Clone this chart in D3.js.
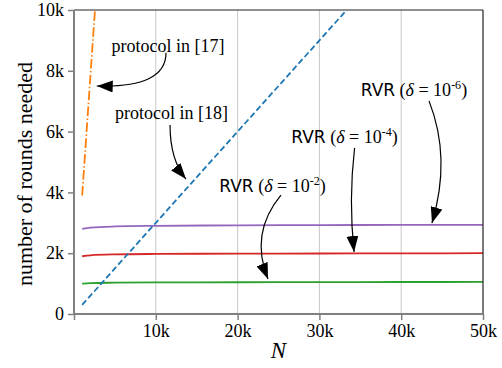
<!DOCTYPE html>
<html>
<head>
<meta charset="utf-8">
<script src="https://cdn.jsdelivr.net/npm/d3@7"></script>
<style>
  body { margin: 0; background: #fff; }
</style>
</head>
<body>
<script>
// values
var nTicks = [10000, 20000, 30000, 40000, 50000];
var yTicks = [0, 2000, 4000, 6000, 8000, 10000];
var tickFmt = function(d) { return d === 0 ? '0' : (d / 1000) + 'k'; };

var rvrN = [1000, 2000, 5000, 10000, 20000, 30000, 40000, 50000];
var rvr6 = [2800, 2840, 2880, 2900, 2915, 2925, 2930, 2935];
var rvr4 = [1900, 1930, 1960, 1975, 1985, 1990, 1995, 2000];
var rvr2 = [1000, 1015, 1030, 1040, 1045, 1050, 1052, 1055];

var p18N = [1000, 10000, 20000, 33333];
var p18V = [300, 3000, 6000, 10000];
var p17N = [1000, 2564];
var p17V = [3900, 10000];

var serif = '"Liberation Serif", "Times New Roman", serif';
var sans = '"DejaVu Sans", sans-serif';

var width = 502;
var height = 368;

var x = d3.scaleLinear().domain([0, 50000]).range([74, 483]);
var y = d3.scaleLinear().domain([0, 10000]).range([314, 10]);

var svg = d3.select('body')
            .append('svg')
            .attr('width', width)
            .attr('height', height)
            .attr('font-family', serif);

var defs = svg.append('defs');
defs.append('clipPath').attr('id', 'plot')
    .append('rect')
    .attr('x', x(0)).attr('y', y(10000))
    .attr('width', x(50000) - x(0)).attr('height', y(0) - y(10000));

defs.append('marker')
    .attr('id', 'head')
    .attr('markerUnits', 'userSpaceOnUse')
    .attr('viewBox', '0 0 16 12')
    .attr('refX', 16).attr('refY', 6)
    .attr('markerWidth', 16).attr('markerHeight', 12)
    .attr('orient', 'auto')
    .append('path')
    .attr('d', 'M0,0 L16,6 L0,12 Z')
    .attr('fill', '#000');

// vertical grid
svg.append('g').selectAll('line')
   .data(nTicks.slice(0, 4))
   .enter().append('line')
   .attr('x1', function(d) { return x(d); })
   .attr('x2', function(d) { return x(d); })
   .attr('y1', y(0)).attr('y2', y(10000))
   .attr('stroke', '#c8c8c8')
   .attr('stroke-width', 1);

// series
var line = d3.line()
             .x(function(d) { return x(d[0]); })
             .y(function(d) { return y(d[1]); })
             .curve(d3.curveMonotoneX);

var zip = function(a, b) { return a.map(function(v, i) { return [v, b[i]]; }); };

var series = [
  {pts: zip(rvrN, rvr2), color: '#2ca02c', dash: null},
  {pts: zip(rvrN, rvr4), color: '#d62728', dash: null},
  {pts: zip(rvrN, rvr6), color: '#9467bd', dash: null},
  {pts: zip(p18N, p18V), color: '#1f77b4', dash: '6,3'},
  {pts: zip(p17N, p17V), color: '#ff7f0e', dash: '9.6,2.4,1.5,2.4'}
];

svg.append('g').attr('clip-path', 'url(#plot)')
   .selectAll('path')
   .data(series)
   .enter().append('path')
   .attr('d', function(d) { return line(d.pts); })
   .attr('fill', 'none')
   .attr('stroke', function(d) { return d.color; })
   .attr('stroke-width', 1.8)
   .attr('stroke-dasharray', function(d) { return d.dash; });

// frame: top/right thin dark, left/bottom gray axes
svg.append('line').attr('x1', x(0)).attr('x2', x(50000)).attr('y1', y(10000)).attr('y2', y(10000))
   .attr('stroke', '#222').attr('stroke-width', 1.2);
svg.append('line').attr('x1', x(50000)).attr('x2', x(50000)).attr('y1', y(0)).attr('y2', y(10000))
   .attr('stroke', '#222').attr('stroke-width', 1.2);

var xAxis = svg.append('g')
   .attr('transform', 'translate(0,' + y(0) + ')')
   .call(d3.axisBottom(x).tickValues([0].concat(nTicks)).tickFormat(function(d) { return d === 0 ? '' : tickFmt(d); }).tickSize(6).tickPadding(4));
var yAxis = svg.append('g')
   .attr('transform', 'translate(' + x(0) + ',0)')
   .call(d3.axisLeft(y).tickValues(yTicks).tickFormat(tickFmt).tickSize(6).tickPadding(4));

[xAxis, yAxis].forEach(function(g) {
  g.attr('font-family', serif).attr('font-size', 18);
  g.select('.domain').attr('stroke', '#808080').attr('stroke-width', 2);
  g.selectAll('.tick line').attr('stroke', '#808080').attr('stroke-width', 1.5);
  g.selectAll('.tick text').attr('fill', '#000');
});
xAxis.select('.domain').attr('d', 'M' + x(0) + ',0H' + x(50000));
yAxis.select('.domain').attr('d', 'M0,' + y(0) + 'V' + y(10000));

// axis titles
svg.append('text')
   .attr('x', (x(0) + x(50000)) / 2)
   .attr('y', 358)
   .attr('text-anchor', 'middle')
   .attr('font-size', 23)
   .attr('font-style', 'italic')
   .text('N');

svg.append('text')
   .attr('transform', 'translate(32,174) rotate(-90)')
   .attr('text-anchor', 'middle')
   .attr('font-size', 22)
   .text('number of rounds needed');

// annotations in data space
var notes = [
  {label: 'protocol in [17]', tx: 11500, ty: 8620, sup: null,
   from: [11250, 8590], ctrl: [11250, 7430], to: [2780, 7500]},
  {label: 'protocol in [18]', tx: 11920, ty: 6420, sup: null,
   from: [11740, 6220], ctrl: [11740, 5070], to: [13690, 4440]},
  {label: 'RVR', tx: 41560, ty: 7170, sup: '-6',
   from: [43400, 7010], ctrl: [46150, 5130], to: [43760, 2990]},
  {label: 'RVR', tx: 33070, ty: 5625, sup: '-4',
   from: [34300, 5460], ctrl: [33560, 3750], to: [34240, 2040]},
  {label: 'RVR', tx: 24270, ty: 4013, sup: '-2',
   from: [25300, 3914], ctrl: [21450, 2664], to: [23720, 1151]}
];

notes.forEach(function(n) {
  var t = svg.append('text')
             .attr('x', x(n.tx))
             .attr('y', y(n.ty))
             .attr('text-anchor', 'middle')
             .attr('font-size', 18);
  if (n.sup === null) {
    t.text(n.label);
  } else {
    t.append('tspan').attr('font-family', sans).attr('font-size', 17).text(n.label);
    t.append('tspan').text(' (');
    t.append('tspan').attr('font-style', 'italic').text('δ');
    t.append('tspan').text(' = 10');
    t.append('tspan').attr('dy', -7).attr('font-size', 12).text(n.sup);
    t.append('tspan').attr('dy', 7).text(')');
  }
  svg.append('path')
     .attr('d', 'M' + x(n.from[0]) + ',' + y(n.from[1]) +
                'Q' + x(n.ctrl[0]) + ',' + y(n.ctrl[1]) +
                ' ' + x(n.to[0]) + ',' + y(n.to[1]))
     .attr('fill', 'none')
     .attr('stroke', '#000')
     .attr('stroke-width', 1.2)
     .attr('marker-end', 'url(#head)');
});
</script>
</body>
</html>
